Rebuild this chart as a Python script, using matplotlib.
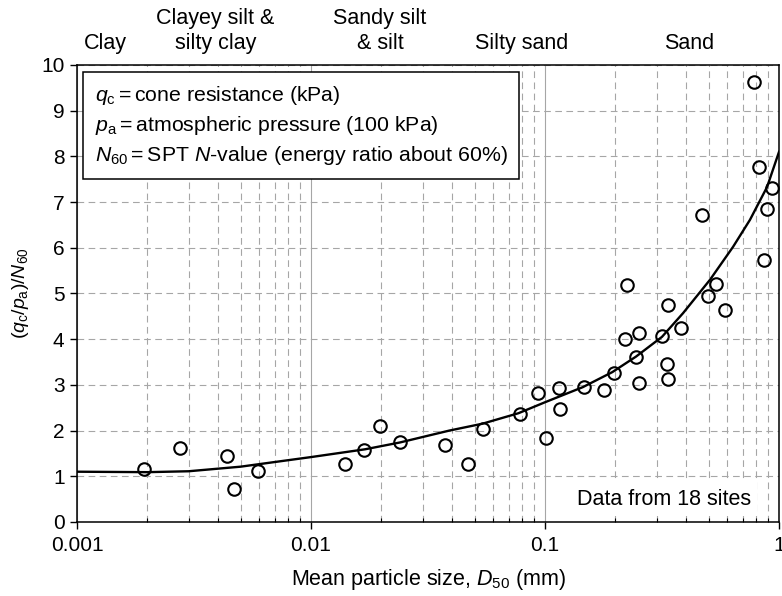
import matplotlib
matplotlib.use("Agg")
import matplotlib.pyplot as plt
import matplotlib.transforms as mtransforms
from matplotlib.ticker import LogLocator, NullFormatter, FixedLocator

plt.rcParams['font.family'] = ['Liberation Sans', 'DejaVu Sans']
plt.rcParams['mathtext.fontset'] = 'custom'
plt.rcParams['mathtext.rm'] = 'Liberation Sans'
plt.rcParams['mathtext.it'] = 'Liberation Sans:italic'

d50 = [0.00193, 0.00276, 0.00438, 0.00469, 0.00594, 0.0140, 0.0168, 0.0197,
       0.0240, 0.0374, 0.0469, 0.0543, 0.0782, 0.101, 0.116, 0.0934, 0.115,
       0.147, 0.179, 0.197, 0.220, 0.224, 0.245, 0.252, 0.253, 0.316, 0.332,
       0.335, 0.335, 0.381, 0.469, 0.497, 0.538, 0.588, 0.863, 0.889, 0.782,
       0.822, 0.933]
ratio = [1.16, 1.62, 1.44, 0.72, 1.12, 1.27, 1.58, 2.10,
         1.75, 1.68, 1.27, 2.03, 2.36, 1.84, 2.47, 2.82, 2.93,
         2.95, 2.89, 3.26, 4.00, 5.19, 3.61, 4.14, 3.04, 4.07, 3.46,
         3.13, 4.75, 4.24, 6.72, 4.95, 5.21, 4.64, 5.73, 6.85, 9.63,
         7.77, 7.31]

# trend curve
curve_x = [0.001, 0.002, 0.003, 0.005, 0.01, 0.017, 0.024, 0.039, 0.054,
           0.077, 0.1, 0.145, 0.194, 0.245, 0.316, 0.389, 0.507, 0.636,
           0.751, 0.889, 1.0]
curve_y = [1.10, 1.09, 1.11, 1.21, 1.42, 1.59, 1.74, 2.00, 2.15,
           2.38, 2.62, 2.95, 3.28, 3.62, 4.05, 4.57, 5.30, 6.02,
           6.61, 7.33, 8.10]

soil_labels = ['Clay', 'Clayey silt &\nsilty clay', 'Sandy silt\n& silt',
               'Silty sand', 'Sand']
soil_label_x = [0.00132, 0.0039, 0.0197, 0.0798, 0.412]

legend_lines = [r'$q_\mathrm{c}$$=$cone resistance (kPa)',
                r'$p_\mathrm{a}$$=$atmospheric pressure (100 kPa)',
                r'$N_{60}$$=$SPT $N$-value (energy ratio about 60%)']


def main():
    fig = plt.figure(figsize=(7.82, 5.96), dpi=100)
    ax = fig.add_axes([0.0985, 0.1242, 0.8977, 0.7668])

    ax.set_xscale('log')
    ax.set_xlim(0.001, 1)
    ax.set_ylim(0, 10)

    grid_c = '#a6a6a6'
    ax.xaxis.set_minor_locator(LogLocator(base=10, subs=range(2, 10)))
    ax.xaxis.set_minor_formatter(NullFormatter())
    ax.set_xticks([0.001, 0.01, 0.1, 1])
    ax.set_xticklabels(['0.001', '0.01', '0.1', '1'])
    ax.yaxis.set_major_locator(FixedLocator(range(0, 11)))

    ax.grid(which='major', axis='x', color=grid_c, linestyle='-', linewidth=0.8)
    ax.grid(which='minor', axis='x', color=grid_c, linestyle=(0, (6, 4)), linewidth=0.8)
    ax.grid(which='major', axis='y', color=grid_c, linestyle=(0, (6, 4)), linewidth=0.8)
    ax.set_axisbelow(True)

    ax.tick_params(axis='both', which='major', direction='out', length=5,
                   width=1.0, labelsize=15, color='black')
    ax.tick_params(axis='x', which='minor', direction='in', length=3, width=0.8)
    ax.tick_params(axis='x', which='major', pad=5)
    ax.tick_params(axis='y', which='major', pad=4)
    for sp in ax.spines.values():
        sp.set_linewidth(1.1)

    ax.plot(curve_x, curve_y, color='black', linewidth=1.7, zorder=3)
    ax.plot(d50, ratio, linestyle='none', marker='o', markersize=9,
            markerfacecolor='none', markeredgecolor='black',
            markeredgewidth=1.5, zorder=4)

    ax.set_xlabel(r'Mean particle size, $D_{50}$ (mm)', fontsize=15.5, labelpad=9)
    ax.set_ylabel(r'$(q_\mathrm{c}/p_\mathrm{a})/N_{60}$', fontsize=14, labelpad=7)

    # soil type labels above the plot
    trans = mtransforms.blended_transform_factory(ax.transData, ax.transAxes)
    for lab, xpos in zip(soil_labels, soil_label_x):
        ax.text(xpos, 1.025, lab, transform=trans, ha='center', va='bottom',
                fontsize=15.5, linespacing=1.2)

    # definitions box
    ax.text(0.0249, 0.777, '\n'.join(legend_lines), transform=ax.transAxes,
            ha='left', va='bottom', fontsize=15.3, linespacing=1.42,
            bbox=dict(boxstyle='square,pad=0.55', facecolor='white',
                      edgecolor='black', linewidth=1.1), zorder=5)

    ax.text(0.96, 0.05, 'Data from 18 sites', transform=ax.transAxes,
            ha='right', va='center', fontsize=15.5,
            bbox=dict(boxstyle='square,pad=0.3', facecolor='white',
                      edgecolor='none'), zorder=5)

    fig.savefig('out.png', dpi=100)


if __name__ == "__main__":
    main()
